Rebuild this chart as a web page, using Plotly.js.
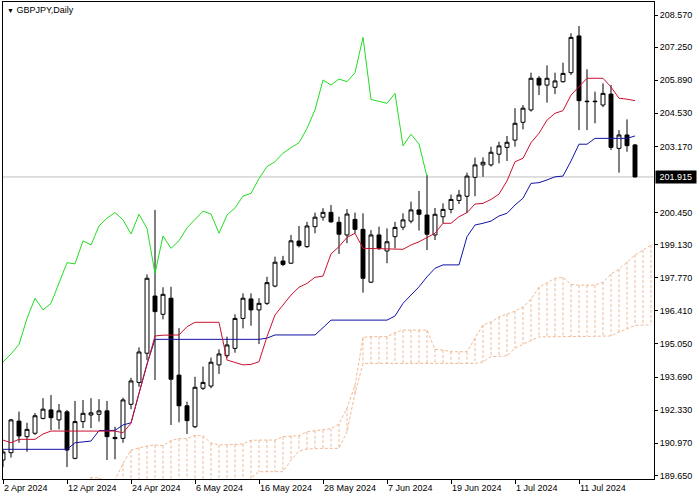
<!DOCTYPE html>
<html>
<head>
<meta charset="utf-8">
<script src="https://cdn.plot.ly/plotly-3.0.1.min.js"></script>
<style>html,body{margin:0;padding:0;background:#fff;}#chart{width:700px;height:500px;}</style>
</head>
<body>
<div id="chart"></div>
<script>
// Trading days (last two are future sessions reached only by the cloud)
const dates = ['2 Apr 2024','3 Apr 2024','4 Apr 2024','5 Apr 2024','8 Apr 2024','9 Apr 2024','10 Apr 2024','11 Apr 2024','12 Apr 2024','15 Apr 2024',
'16 Apr 2024','17 Apr 2024','18 Apr 2024','19 Apr 2024','22 Apr 2024','23 Apr 2024','24 Apr 2024','25 Apr 2024','26 Apr 2024','29 Apr 2024',
'30 Apr 2024','1 May 2024','2 May 2024','3 May 2024','6 May 2024','7 May 2024','8 May 2024','9 May 2024','10 May 2024','13 May 2024',
'14 May 2024','15 May 2024','16 May 2024','17 May 2024','20 May 2024','21 May 2024','22 May 2024','23 May 2024','24 May 2024','27 May 2024',
'28 May 2024','29 May 2024','30 May 2024','31 May 2024','3 Jun 2024','4 Jun 2024','5 Jun 2024','6 Jun 2024','7 Jun 2024','10 Jun 2024',
'11 Jun 2024','12 Jun 2024','13 Jun 2024','14 Jun 2024','17 Jun 2024','18 Jun 2024','19 Jun 2024','20 Jun 2024','21 Jun 2024','24 Jun 2024',
'25 Jun 2024','26 Jun 2024','27 Jun 2024','28 Jun 2024','1 Jul 2024','2 Jul 2024','3 Jul 2024','4 Jul 2024','5 Jul 2024','8 Jul 2024',
'9 Jul 2024','10 Jul 2024','11 Jul 2024','12 Jul 2024','15 Jul 2024','16 Jul 2024','17 Jul 2024','18 Jul 2024','19 Jul 2024','22 Jul 2024',
'23 Jul 2024','24 Jul 2024'];

const axisLabelDates = ['2 Apr 2024','12 Apr 2024','24 Apr 2024','6 May 2024','16 May 2024','28 May 2024','7 Jun 2024','19 Jun 2024','1 Jul 2024','11 Jul 2024'];

const priceTicks = [208.57, 207.25, 205.89, 204.53, 203.17, 200.45, 199.13, 197.77, 196.41, 195.05, 193.69, 192.33, 190.97, 189.65];

const open = [190.28,190.58,191.88,191.24,191.38,191.99,192.34,191.93,192.26,190.35,
191.86,192.13,192.16,192.30,191.21,191.17,192.57,193.47,194.67,197.02,
196.27,196.93,193.77,192.51,191.65,193.23,193.32,194.19,194.57,194.87,
196.10,196.90,196.45,196.72,197.43,198.46,198.37,199.28,199.05,199.87,
200.26,200.46,200.05,199.53,200.17,199.76,197.59,199.53,198.87,199.46,
199.85,200.10,200.56,200.35,199.53,200.28,200.58,200.95,201.12,201.90,
202.41,202.41,202.85,203.13,203.43,204.16,204.67,205.97,205.69,205.60,
205.83,206.20,207.71,205.03,205.03,204.87,205.32,203.09,203.64,203.23];

const high = [190.69,191.97,192.27,191.81,192.21,192.82,192.95,192.58,192.34,192.71,
192.75,192.82,192.78,192.71,191.65,192.84,193.66,194.91,197.91,200.56,
197.38,197.40,195.70,192.68,193.70,194.12,194.49,194.83,195.35,196.27,
197.13,197.13,196.93,197.81,198.64,198.67,199.53,199.90,200.07,200.45,
200.63,200.76,200.28,200.59,200.45,200.42,199.73,199.87,199.80,200.07,
200.42,200.90,201.34,201.99,200.64,200.83,201.19,201.38,202.09,202.71,
202.72,203.16,203.36,203.60,204.74,204.87,206.20,206.06,206.50,206.20,
206.61,207.82,208.12,206.34,205.42,205.76,205.69,203.84,204.28,203.27];

const low = [189.99,190.38,190.99,190.62,191.31,191.95,191.51,191.54,189.99,190.31,
191.59,191.59,191.86,190.28,190.31,190.99,192.37,193.29,194.39,193.57,
196.06,191.72,191.83,191.35,191.59,193.16,193.23,193.82,194.47,194.69,
195.69,195.80,195.05,196.65,197.38,198.25,198.34,199.02,199.00,199.60,
200.12,200.03,198.75,199.19,199.60,197.16,197.55,198.91,198.37,198.98,
199.73,200.01,199.71,198.91,199.32,200.01,200.42,200.80,200.43,201.12,
201.92,202.34,202.47,202.57,203.16,203.87,204.60,205.28,204.97,205.32,
205.79,206.10,203.84,203.84,204.12,204.78,203.02,202.09,202.95,201.90];

const close = [190.61,191.93,191.27,191.54,192.10,192.37,192.02,192.30,190.69,191.86,
192.20,192.22,192.30,191.24,191.16,192.75,193.53,194.72,197.75,196.38,
197.09,193.60,192.51,191.90,193.27,193.47,194.30,194.64,195.01,196.10,
196.93,196.45,196.72,197.57,198.41,198.32,199.29,199.09,199.90,200.26,
200.46,200.07,199.56,200.39,199.76,197.75,199.53,198.98,199.25,199.84,
200.15,200.56,200.38,199.56,200.38,200.58,200.99,201.17,201.95,202.41,
202.52,202.93,203.19,203.34,204.12,204.74,205.97,205.69,205.97,205.86,
206.17,207.65,205.05,205.01,205.01,205.35,203.13,203.64,203.20,201.915];

const tenkan = [191.10,190.99,191.13,191.13,191.13,191.35,191.47,191.47,191.47,191.47,
191.47,191.47,191.47,191.47,191.47,191.40,191.79,193.02,194.25,195.38,
195.41,195.41,195.42,195.76,195.94,195.94,195.94,195.94,194.39,194.28,
194.19,194.21,194.32,195.35,196.24,196.65,197.06,197.38,197.54,197.79,
197.84,198.75,199.05,199.43,199.60,198.98,198.98,198.98,198.98,198.95,
198.94,199.12,199.25,199.43,199.60,200.01,200.01,200.28,200.45,200.80,
200.83,200.99,201.21,201.75,202.54,202.68,203.32,203.71,204.25,204.53,
204.64,205.28,205.62,205.97,205.97,205.97,205.61,205.15,205.11,205.05];

const kijun = [190.72,190.72,190.72,190.72,190.72,190.72,190.72,190.72,190.72,190.99,
191.03,191.06,191.49,191.49,191.50,191.72,191.81,193.02,194.23,195.24,
195.24,195.24,195.24,195.24,195.24,195.24,195.24,195.24,195.24,195.24,
195.24,195.24,195.24,195.29,195.42,195.42,195.42,195.42,195.42,195.42,
195.72,196.03,196.03,196.03,196.03,196.03,196.03,196.03,196.03,196.20,
196.72,197.06,197.40,197.81,198.16,198.30,198.30,198.30,199.46,199.94,
200.01,200.10,200.31,200.42,200.76,201.04,201.65,201.68,201.79,201.92,
201.95,202.57,203.26,203.26,203.50,203.50,203.50,203.50,203.50,203.60];

const chikou = [194.31,194.64,195.03,196.10,196.93,196.45,196.72,197.54,198.39,198.34,
199.29,199.12,199.90,200.22,200.45,200.15,199.57,200.38,199.80,197.95,
199.49,198.98,199.29,199.82,200.15,200.51,200.39,199.60,200.35,200.64,
201.13,201.24,201.85,202.34,202.54,202.89,203.12,203.32,203.91,204.67,
205.90,205.69,205.94,205.83,206.20,207.65,205.10,205.01,204.94,205.35,
203.19,203.67,203.27,201.93];

const spanA = [189.13,189.13,189.13,189.13,189.13,189.13,189.13,189.13,189.13,189.13,
189.38,189.56,189.54,189.38,189.46,190.14,190.69,190.79,190.86,190.90,
190.87,191.08,191.16,191.16,191.30,191.27,190.98,190.90,190.90,190.92,
190.94,191.09,191.10,191.10,191.10,191.24,191.27,191.28,191.44,191.49,
191.51,191.57,191.76,192.41,193.36,195.32,195.35,195.35,195.35,195.51,
195.62,195.62,195.62,195.62,194.83,194.80,194.73,194.73,194.73,195.29,
195.83,195.95,196.16,196.28,196.40,196.57,196.90,197.38,197.56,197.75,
197.79,197.50,197.47,197.47,197.47,197.59,197.93,198.12,198.43,198.71,
198.91,199.12];

const spanB = [188.95,188.95,188.95,188.95,188.95,188.95,188.95,188.95,188.95,188.95,
188.95,188.95,188.95,188.95,188.95,188.95,188.95,188.95,188.95,188.95,
188.95,188.95,188.95,188.95,188.95,188.95,188.95,188.95,188.95,188.95,
189.20,189.54,189.80,189.80,189.80,189.80,190.27,190.65,190.73,190.76,
190.76,190.76,190.76,191.44,193.02,194.25,194.25,194.25,194.25,194.25,
194.25,194.25,194.25,194.25,194.25,194.25,194.25,194.25,194.25,194.25,
194.31,194.53,194.54,194.56,194.88,195.05,195.19,195.34,195.35,195.36,
195.36,195.36,195.36,195.36,195.36,195.36,195.38,195.54,195.69,195.81,
195.83,195.83];

// ---- build traces ----
const barX = close.map((_, i) => i);
const cloudX = spanA.map((_, i) => i);
const chikouX = chikou.map((_, i) => i);

const hatchX = [], hatchY = [];
spanA.forEach((a, i) => { hatchX.push(i, i, null); hatchY.push(a, spanB[i], null); });

const FONT = 'Liberation Sans, Arial, sans-serif';
const cloudColor = 'rgba(236,160,110,0.72)';

const traces = [
  { type: 'scatter', mode: 'lines', x: hatchX, y: hatchY, connectgaps: false,
    line: { color: cloudColor, width: 1, dash: '3px,2px' }, hoverinfo: 'skip', showlegend: false },
  { type: 'scatter', mode: 'lines', x: cloudX, y: spanA,
    line: { color: cloudColor, width: 1, dash: '3px,2px' }, hoverinfo: 'skip', showlegend: false },
  { type: 'scatter', mode: 'lines', x: cloudX, y: spanB,
    line: { color: cloudColor, width: 1, dash: '3px,2px' }, hoverinfo: 'skip', showlegend: false },
  { type: 'scatter', mode: 'lines', x: chikouX, y: chikou,
    line: { color: '#22dd22', width: 1 }, hoverinfo: 'skip', showlegend: false },
  { type: 'scatter', mode: 'lines', x: barX, y: kijun,
    line: { color: '#1212a8', width: 1 }, hoverinfo: 'skip', showlegend: false },
  { type: 'scatter', mode: 'lines', x: barX, y: tenkan,
    line: { color: '#cc1030', width: 1 }, hoverinfo: 'skip', showlegend: false },
  { type: 'candlestick', x: barX, open: open, high: high, low: low, close: close,
    whiskerwidth: 0,
    increasing: { line: { color: '#000000', width: 1 }, fillcolor: '#ffffff' },
    decreasing: { line: { color: '#000000', width: 1 }, fillcolor: '#000000' },
    hoverinfo: 'skip', showlegend: false }
];

const lastClose = close[close.length - 1];
const xTickVals = axisLabelDates.map(d => dates.indexOf(d));

const layout = {
  width: 700, height: 500,
  margin: { l: 3, r: 46, t: 2, b: 21, pad: 0 },
  paper_bgcolor: '#ffffff', plot_bgcolor: '#ffffff',
  showlegend: false,
  boxgap: 0.3,
  font: { family: FONT, size: 9, color: '#000000' },
  xaxis: {
    type: 'linear', range: [0, 81.375],
    tickvals: xTickVals, ticktext: axisLabelDates,
    ticks: 'outside', ticklen: 4, tickcolor: '#000000',
    ticklabelposition: 'outside right',
    showline: true, linecolor: '#000000', linewidth: 1, mirror: true,
    showgrid: false, zeroline: false,
    tickfont: { family: FONT, size: 9, color: '#000000' },
    rangeslider: { visible: false }, fixedrange: true
  },
  yaxis: {
    side: 'right', range: [189.50, 209.105],
    tickvals: priceTicks, tickformat: '.3f',
    ticks: 'outside', ticklen: 3, tickcolor: '#000000',
    showline: true, linecolor: '#000000', linewidth: 1, mirror: true,
    showgrid: false, zeroline: false,
    tickfont: { family: FONT, size: 9, color: '#000000' },
    fixedrange: true
  },
  shapes: [
    { type: 'line', layer: 'below', xref: 'paper', x0: 0, x1: 1, yref: 'y', y0: lastClose, y1: lastClose,
      line: { color: '#c0c0c0', width: 1 } }
  ],
  annotations: [
    { xref: 'paper', yref: 'paper', x: 0, y: 1, xanchor: 'left', yanchor: 'top', xshift: 2, yshift: -1,
      showarrow: false, align: 'left',
      text: '<span style="font-size:7px">\u25BC</span> GBPJPY,Daily',
      font: { family: FONT, size: 9, color: '#000000' } },
    { xref: 'paper', x: 1, xanchor: 'left', xshift: 1, yref: 'y', y: lastClose, yanchor: 'middle',
      showarrow: false, text: '\u00a0' + lastClose.toFixed(3) + '\u00a0', bgcolor: '#000000', borderpad: 1,
      font: { family: FONT, size: 9, color: '#ffffff' } }
  ]
};

Plotly.newPlot('chart', traces, layout, { staticPlot: true, displayModeBar: false });
</script>
</body>
</html>
